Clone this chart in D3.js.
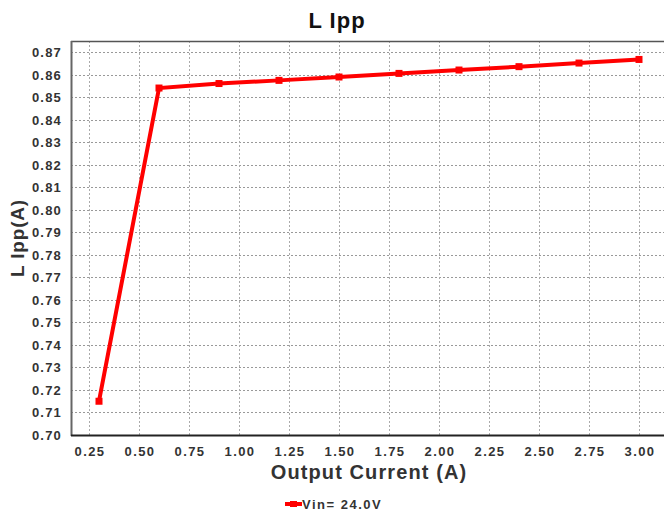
<!DOCTYPE html>
<html><head><meta charset="utf-8">
<script src="https://cdn.jsdelivr.net/npm/d3@7"></script>
<style>body{margin:0;background:#fff}svg{display:block}</style>
</head><body><svg id="c" width="664" height="513"></svg>
<script>
const current = [0.3, 0.6, 0.9, 1.2, 1.5, 1.8, 2.1, 2.4, 2.7, 3.0];
const lIpp = [0.715, 0.8542, 0.8562, 0.8576, 0.8591, 0.8607, 0.8622, 0.8637, 0.8653, 0.8669];
const xTicks = [0.25, 0.5, 0.75, 1.0, 1.25, 1.5, 1.75, 2.0, 2.25, 2.5, 2.75, 3.0];
const yTicks = [0.70,0.71,0.72,0.73,0.74,0.75,0.76,0.77,0.78,0.79,0.80,0.81,0.82,0.83,0.84,0.85,0.86,0.87];
const seriesName = "Vin= 24.0V";

const svg = d3.select("#c");
const L = 71, T = 41, R = 664, B = 435;
const x = d3.scaleLinear().domain([0.16, 3.125]).range([L, R]);
const y = d3.scaleLinear().domain([0.70, 0.8751]).range([B, T]);
const txt = "#333";
const ff = "Liberation Sans, Arial, sans-serif";

// grid
const g = svg.append("g");
g.selectAll(".gy").data(yTicks.slice(1)).enter().append("line")
  .attr("x1", L).attr("x2", R).attr("y1", d => Math.round(y(d)) + 0.5).attr("y2", d => Math.round(y(d)) + 0.5)
  .attr("stroke", "#999").attr("stroke-dasharray", "2,2").attr("stroke-width", 1);
g.selectAll(".gx").data(xTicks).enter().append("line")
  .attr("y1", T).attr("y2", B).attr("x1", d => Math.round(x(d)) + 0.5).attr("x2", d => Math.round(x(d)) + 0.5)
  .attr("stroke", "#aaa").attr("stroke-dasharray", "2,2").attr("stroke-width", 1);

// borders
svg.append("line").attr("x1", L).attr("x2", R).attr("y1", T + 0.5).attr("y2", T + 0.5).attr("stroke", "#555").attr("stroke-width", 1.5);
svg.append("line").attr("x1", L + 0.5).attr("x2", L + 0.5).attr("y1", T).attr("y2", B + 1).attr("stroke", "#666").attr("stroke-width", 2);
svg.append("line").attr("x1", L).attr("x2", R).attr("y1", B + 0.5).attr("y2", B + 0.5).attr("stroke", "#222").attr("stroke-width", 2);

// tick labels
svg.selectAll(".yt").data(yTicks).enter().append("text")
  .attr("x", L - 9).attr("y", d => y(d)).attr("dy", "0.35em").attr("text-anchor", "end")
  .attr("font-family", ff).attr("font-weight", "bold").attr("font-size", 13)
  .attr("letter-spacing", "1.2").attr("fill", txt).text(d => d.toFixed(2));
svg.selectAll(".xt").data(xTicks).enter().append("text")
  .attr("x", d => x(d) + 1).attr("y", 456).attr("text-anchor", "middle")
  .attr("font-family", ff).attr("font-weight", "bold").attr("font-size", 13)
  .attr("letter-spacing", "1.4").attr("fill", txt).text(d => d.toFixed(2));

// titles
svg.append("text").attr("x", 337).attr("y", 28).attr("text-anchor", "middle")
  .attr("font-family", ff).attr("font-weight", "bold").attr("font-size", 22)
  .attr("letter-spacing", "1").attr("fill", "#111").text("L Ipp");
svg.append("text").attr("x", 369).attr("y", 479).attr("text-anchor", "middle")
  .attr("font-family", ff).attr("font-weight", "bold").attr("font-size", 20)
  .attr("letter-spacing", "1.1").attr("fill", txt).text("Output Current (A)");
svg.append("text").attr("transform", "translate(24,238) rotate(-90)").attr("text-anchor", "middle")
  .attr("font-family", ff).attr("font-weight", "bold").attr("font-size", 19)
  .attr("letter-spacing", "0.8").attr("fill", txt).text("L Ipp(A)");

// series
const data = current.map((c, i) => ({c, v: lIpp[i]}));
svg.append("path").datum(data)
  .attr("d", d3.line().x(d => x(d.c)).y(d => y(d.v)))
  .attr("fill", "none").attr("stroke", "#ff0000").attr("stroke-width", 4).attr("stroke-linejoin", "miter");
svg.selectAll(".m").data(data).enter().append("rect")
  .attr("x", d => x(d.c) - 3.5).attr("y", d => y(d.v) - 3.5).attr("width", 7).attr("height", 7).attr("fill", "#ff0000");

// legend
svg.append("line").attr("x1", 285).attr("x2", 302).attr("y1", 504).attr("y2", 504).attr("stroke", "#ff0000").attr("stroke-width", 4);
svg.append("rect").attr("x", 290).attr("y", 501).attr("width", 7).attr("height", 6).attr("fill", "#ff0000");
svg.append("text").attr("x", 302).attr("y", 509)
  .attr("font-family", ff).attr("font-weight", "bold").attr("font-size", 13)
  .attr("letter-spacing", "1.5").attr("fill", txt).text(seriesName);
</script></body></html>
